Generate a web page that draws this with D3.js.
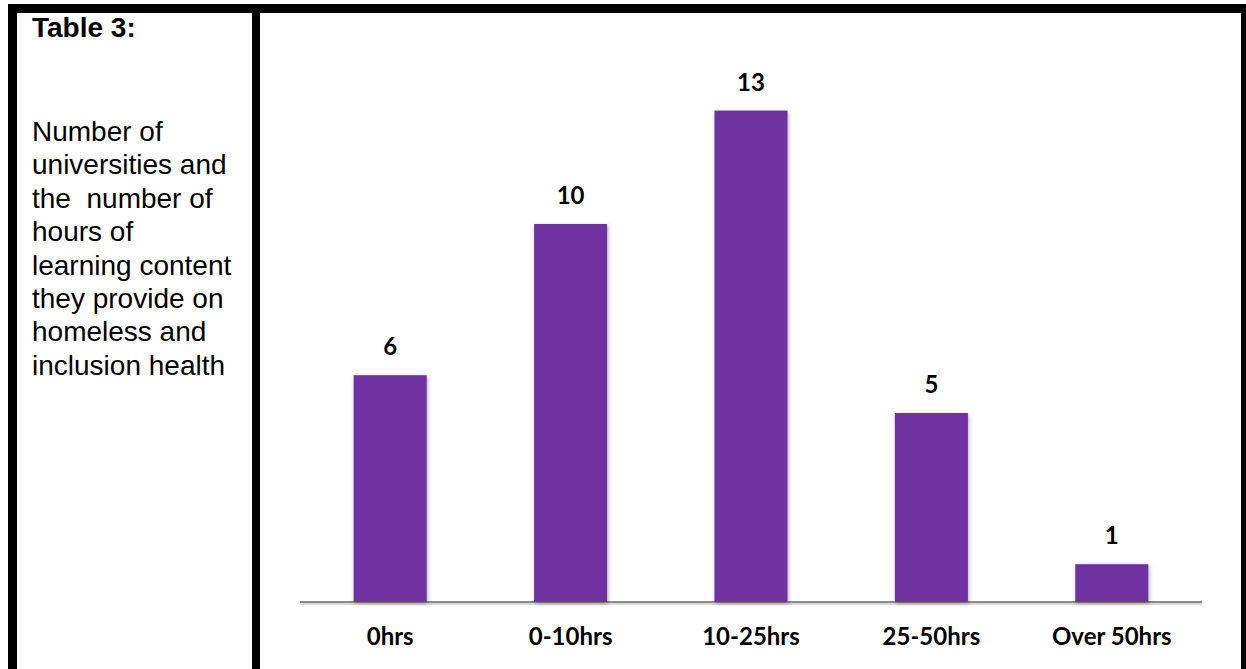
<!DOCTYPE html>
<html>
<head>
<meta charset="utf-8">
<script src="https://cdn.jsdelivr.net/npm/d3@7"></script>
<style>
  body { margin: 0; background: #fff; }
  svg { display: block; }
</style>
</head>
<body>
<div class="container"></div>
<script>
// chart data
var categories = ["0hrs", "0-10hrs", "10-25hrs", "25-50hrs", "Over 50hrs"];
var counts = [6, 10, 13, 5, 1];

// left caption text
var captionTitle = "Table 3:";
var captionLines = ["Number of", "universities and", "the  number of", "hours of",
  "learning content", "they provide on", "homeless and", "inclusion health"];

var W = 1246, H = 669;

var svg = d3.select(".container").append("svg")
  .attr("width", W)
  .attr("height", H);

var defs = svg.append("defs");
var shadow = defs.append("filter").attr("id", "shadow")
  .attr("x", "-20%").attr("y", "-20%").attr("width", "140%").attr("height", "140%");
shadow.append("feDropShadow")
  .attr("dx", 1).attr("dy", 1.5).attr("stdDeviation", 2)
  .attr("flood-color", "#000").attr("flood-opacity", 0.3);

//table borders
var borders = [
  { x: 8, y: 4, w: W - 8, h: 9 },
  { x: 8, y: 4, w: 9, h: H - 4 },
  { x: 252, y: 4, w: 8, h: H - 4 },
  { x: 1241, y: 4, w: 5, h: H - 4 }
];
svg.selectAll("rect.border")
  .data(borders)
  .enter().append("rect")
  .attr("class", "border")
  .attr("x", function(d) { return d.x; })
  .attr("y", function(d) { return d.y; })
  .attr("width", function(d) { return d.w; })
  .attr("height", function(d) { return d.h; })
  .style("fill", "#000");

//caption on the left
svg.append("text")
  .attr("x", 32).attr("y", 37)
  .style("font-family", "Arial, 'Liberation Sans', sans-serif")
  .style("font-size", "28px")
  .style("font-weight", "bold")
  .style("fill", "#000")
  .text(captionTitle);

svg.append("g").selectAll("text")
  .data(captionLines)
  .enter().append("text")
  .attr("x", 32)
  .attr("y", function(d, i) { return 141 + i * 33.4; })
  .attr("xml:space", "preserve")
  .style("white-space", "pre")
  .style("font-family", "Arial, 'Liberation Sans', sans-serif")
  .style("font-size", "28px")
  .style("fill", "#000")
  .text(function(d) { return d; });

//bar chart
var x = d3.scaleBand()
  .domain(categories)
  .range([300, 1202])
  .paddingInner(0.595)
  .paddingOuter(0.2975);

var y = d3.scaleLinear()
  .domain([0, 14])
  .range([602, 602 - 14 * 37.8]);

var chart = svg.append("g");

// baseline (with a soft shade under it)
chart.append("line")
  .attr("x1", x.range()[0]).attr("x2", x.range()[1])
  .attr("y1", y(0) + 2).attr("y2", y(0) + 2)
  .style("stroke", "#d9d9d9")
  .style("stroke-width", 2);
chart.append("line")
  .attr("x1", x.range()[0]).attr("x2", x.range()[1])
  .attr("y1", y(0)).attr("y2", y(0))
  .style("stroke", "#8c8c8c")
  .style("stroke-width", 2);

chart.selectAll("rect.bar")
  .data(categories)
  .enter().append("rect")
  .attr("class", "bar")
  .attr("x", function(d) { return x(d); })
  .attr("y", function(d, i) { return y(counts[i]); })
  .attr("width", x.bandwidth())
  .attr("height", function(d, i) { return y(0) - y(counts[i]); })
  .attr("filter", "url(#shadow)")
  .style("fill", "#7030A0");

var labelFont = "Lato, Carlito, Calibri, sans-serif";

chart.selectAll("text.value")
  .data(categories)
  .enter().append("text")
  .attr("class", "value")
  .attr("x", function(d) { return x(d) + x.bandwidth() / 2; })
  .attr("y", function(d, i) { return y(counts[i]) - 20; })
  .attr("text-anchor", "middle")
  .style("font-family", labelFont)
  .style("font-size", "24px")
  .style("font-weight", "bold")
  .style("fill", "#000")
  .text(function(d, i) { return counts[i]; });

chart.selectAll("text.cat")
  .data(categories)
  .enter().append("text")
  .attr("class", "cat")
  .attr("x", function(d) { return x(d) + x.bandwidth() / 2; })
  .attr("y", 645)
  .attr("text-anchor", "middle")
  .style("font-family", labelFont)
  .style("font-size", "24px")
  .style("font-weight", "bold")
  .style("fill", "#000")
  .text(function(d) { return d; });
</script>
</body>
</html>
